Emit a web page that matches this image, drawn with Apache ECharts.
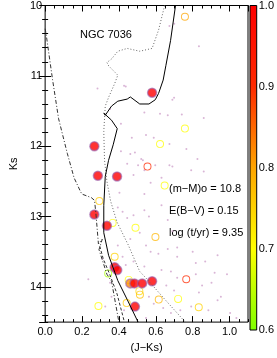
<!DOCTYPE html>
<html><head><meta charset="utf-8">
<script src="https://cdn.jsdelivr.net/npm/echarts@6/dist/echarts.min.js"></script>
<style>html,body{margin:0;padding:0;background:#fff}#c{width:277px;height:358px}</style>
</head><body><div id="c"></div>
<script>
// Members (filled): [J-Ks, Ks, probability]
var members = [[0.58,11.24,1],[0.267,12.0,1],[0.286,12.42,1],[0.39,12.43,1],[0.267,12.97,1],[0.335,13.13,1],[0.377,13.72,1],[0.391,13.76,1],[0.462,13.95,0.82],[0.484,13.95,1],[0.526,13.95,1],[0.58,13.92,1],[0.487,14.28,1]];
// Candidates (open circles): [J-Ks, Ks, probability]
var candidates = [[0.758,10.16,0.8],[0.758,11.75,0.7],[0.623,11.97,0.7],[0.555,12.29,0.9],[0.648,12.56,0.7],[0.294,12.78,0.76],[0.366,13.09,0.7],[0.49,13.16,0.7],[0.598,13.29,0.78],[0.377,13.57,0.75],[0.342,13.81,0.63],[0.453,13.9,0.7],[0.765,13.89,0.9],[0.511,14.06,0.74],[0.514,14.11,0.77],[0.616,14.18,0.78],[0.721,14.17,0.7],[0.833,14.29,0.75],[0.442,14.23,0.76],[0.289,14.27,0.7]];
// Field stars (small dots): [J-Ks, Ks]
var field = [[0.674,10.29],[0.70,10.26],[0.834,10.58],[0.69,11.34],[0.538,11.52],[0.623,11.54],[0.665,11.56],[0.741,11.55],[0.86,11.6],[0.547,11.84],[0.589,11.88],[0.674,11.97],[0.766,12.04],[0.53,12.2],[0.597,12.27],[0.674,12.27],[0.69,12.29],[0.826,12.18],[0.792,12.34],[0.86,12.36],
[0.284,11.18],[0.352,11.47],[0.437,11.15],[0.47,11.88],[0.411,12.07],[0.445,12.25],[0.504,12.27],[0.538,12.34],[0.479,12.41],
[0.428,11.14],[0.699,11.31],[0.411,11.68],[0.462,12.11],[0.487,12.09],[0.521,12.18],[0.631,12.45],[0.572,12.52],[0.403,12.66],[0.538,12.68],
[0.394,12.87],[0.42,12.93],[0.445,13.02],[0.479,12.98],[0.538,12.91],[0.563,13.0],[0.631,12.84],[0.665,13.05],[0.69,13.21],[0.513,13.23],[0.462,13.32],[0.547,13.41],[0.572,13.5],[0.614,13.53],[0.665,13.46],[0.716,13.57],[0.80,13.5],[0.868,13.64],[0.935,13.55],[0.986,13.82],[0.42,13.57],[0.437,13.69],[0.479,13.64],[0.538,13.71],[0.631,13.76],[0.682,13.78],[0.716,13.87],[0.817,13.82],[0.851,13.98],[0.902,13.94],[0.657,13.98],[0.699,14.05],[0.563,14.14],[0.589,14.24],[0.64,14.3],[0.682,14.37],[0.733,14.33],[0.792,14.28],[0.885,14.33],[0.953,14.14],[1.003,14.37],[0.547,14.44],[0.36,14.14],[0.352,13.94],[0.31,13.6],[0.394,13.41],[0.326,14.28],[0.428,14.33],
[0.716,13.44],[0.817,13.66],[0.919,13.8],[0.834,14.08],[0.935,14.19],[1.037,14.44],[0.234,13.89]];
// Best-fit isochrone (solid)
var isoSolid = [[0.707,10.0],[0.68,10.5],[0.655,10.85],[0.64,11.06],[0.615,11.25],[0.597,11.34],[0.563,11.40],[0.513,11.40],[0.462,11.30],[0.445,11.33],[0.394,11.36],[0.36,11.43],[0.326,11.56],[0.318,11.53],[0.36,11.63],[0.391,11.75],[0.369,11.98],[0.344,12.2],[0.326,12.43],[0.318,12.84],[0.318,13.23],[0.344,13.55],[0.394,13.91],[0.445,14.18],[0.504,14.5]];
// Binary / shifted sequence (dotted)
var isoDotted = [[0.648,10.0],[0.615,10.35],[0.58,10.61],[0.513,10.65],[0.445,10.61],[0.394,10.65],[0.36,10.76],[0.335,10.81],[0.345,10.86],[0.394,10.99],[0.377,11.11],[0.345,11.3],[0.326,11.43],[0.318,11.79],[0.322,12.2],[0.335,12.5],[0.355,12.78],[0.39,13.08],[0.45,13.4],[0.513,13.78],[0.563,13.92],[0.65,14.18],[0.76,14.5]];
// Left sequence (dash-dot)
var isoDashDot = [[0.0,10.33],[0.005,10.40],[0.04,11.05],[0.073,11.61],[0.12,12.1],[0.157,12.45],[0.191,12.64],[0.199,12.68],[0.25,12.73],[0.268,12.77],[0.276,12.98],[0.289,13.39],[0.31,13.32],[0.292,13.47],[0.335,13.82],[0.36,13.92],[0.40,14.5]];
// Lower dashed branch
var isoDashed = [[0.296,13.42],[0.315,13.6],[0.35,13.82],[0.39,14.1],[0.43,14.5]];
var xTicks = [0.0,0.2,0.4,0.6,0.8,1.0];
var yTicks = [10,11,12,13,14];
var cbTicks = [0.6,0.7,0.8,0.9,1.0];

var FONT = 'Liberation Sans';
var chart = echarts.init(document.getElementById('c'), null, {renderer:'canvas'});
var cbColors = ['#7fff00','#ffff00','#ffa500','#ff2a00','#ff0000'];
var RING = 'path://M0,-10A10,10 0 1,1 0,10A10,10 0 1,1 0,-10ZM0,-7.6A7.6,7.6 0 1,0 0,7.6A7.6,7.6 0 1,0 0,-7.6Z';
function axisBase(extra){
  return Object.assign({type:'value', gridIndex:0, axisLine:{show:false}, splitLine:{show:false},
    axisTick:{inside:true, lineStyle:{color:'#000', width:1}}, axisLabel:{show:false}}, extra);
}
var xMin=0, xMax=1.1, yMin=10, yMax=14.5;
var option = {
  animation:false,
  backgroundColor:'#fff',
  grid:[
    {left:29, top:3, width:219, height:327, show:true, borderColor:'#000', borderWidth:1, backgroundColor:'transparent'},
    {left:250, top:3, width:11, height:327, show:true, borderColor:'#000', borderWidth:1,
     backgroundColor: new echarts.graphic.LinearGradient(0,1,0,0,[
       {offset:0,color:cbColors[0]},{offset:0.25,color:cbColors[1]},{offset:0.5,color:cbColors[2]},{offset:0.75,color:cbColors[3]},{offset:1,color:cbColors[4]}])}
  ],
  xAxis:[
    axisBase({position:'bottom', min:xMin, max:xMax, interval:0.2, axisTick:{inside:true,length:6,lineStyle:{color:'#000'}},
      axisLabel:{show:true, showMaxLabel:false, margin:4, fontFamily:FONT, fontSize:11, color:'#000', formatter:function(v){return xTicks.indexOf(+v.toFixed(1))>=0? v.toFixed(1):'';}},
      name:'(J\u2212Ks)', nameLocation:'middle', nameGap:16, nameTextStyle:{fontFamily:FONT, fontSize:11, color:'#000'}}),
    axisBase({position:'bottom', min:xMin, max:xMax, interval:0.05, axisTick:{inside:true,length:3,lineStyle:{color:'#000'}}}),
    axisBase({position:'top', min:xMin, max:xMax, interval:0.2, axisTick:{inside:true,length:6,lineStyle:{color:'#000'}}}),
    axisBase({position:'top', min:xMin, max:xMax, interval:0.05, axisTick:{inside:true,length:3,lineStyle:{color:'#000'}}}),
    {type:'category', gridIndex:1, show:false, data:['cb']}
  ],
  yAxis:[
    axisBase({position:'left', min:yMin, max:yMax, inverse:true, interval:1, axisTick:{inside:true,length:6,lineStyle:{color:'#000'}},
      axisLabel:{show:true, showMaxLabel:false, margin:3, fontFamily:FONT, fontSize:11, color:'#000', formatter:function(v){return yTicks.indexOf(v)>=0? String(v):'';}},
      name:'Ks', nameLocation:'middle', nameGap:17, nameRotate:90, nameTextStyle:{fontFamily:FONT, fontSize:11, color:'#000'}}),
    axisBase({position:'left', min:yMin, max:yMax, inverse:true, interval:0.2, axisTick:{inside:true,length:3,lineStyle:{color:'#000'}}}),
    axisBase({position:'right', min:yMin, max:yMax, inverse:true, interval:1, axisTick:{inside:true,length:6,lineStyle:{color:'#000'}}}),
    axisBase({position:'right', min:yMin, max:yMax, inverse:true, interval:0.2, axisTick:{inside:true,length:3,lineStyle:{color:'#000'}}}),
    {type:'value', gridIndex:1, position:'right', min:0.6, max:1.0, interval:0.1, axisLine:{show:false}, axisTick:{show:false}, splitLine:{show:false},
      axisLabel:{margin:2, fontFamily:FONT, fontSize:11, color:'#000', formatter:function(v){return cbTicks.indexOf(+v.toFixed(1))>=0? v.toFixed(1):'';}}}
  ],
  visualMap:[{type:'continuous', show:false, min:0.6, max:1.0, dimension:2, seriesIndex:[5,6], inRange:{color:cbColors}}],
  graphic:[
    {type:'text', left:80, top:29, style:{text:'NGC 7036', fontFamily:FONT, fontSize:11, fill:'#000'}},
    {type:'text', left:169, top:183, style:{text:'(m\u2212M)o = 10.8', fontFamily:FONT, fontSize:11, fill:'#000'}},
    {type:'text', left:169, top:205, style:{text:'E(B\u2212V) = 0.15', fontFamily:FONT, fontSize:11, fill:'#000'}},
    {type:'text', left:169, top:227, style:{text:'log (t/yr) = 9.35', fontFamily:FONT, fontSize:11, fill:'#000'}}
  ],
  series:[
    {type:'scatter', xAxisIndex:0, yAxisIndex:0, data:field, symbolSize:2, itemStyle:{color:'#cfa3cc'}, silent:true},
    {type:'line', xAxisIndex:0, yAxisIndex:0, data:isoDotted, showSymbol:false, lineStyle:{color:'#666', width:1, type:[1,2]}, silent:true},
    {type:'line', xAxisIndex:0, yAxisIndex:0, data:isoDashDot, showSymbol:false, lineStyle:{color:'#333', width:1, type:[4,2,1,2]}, silent:true},
    {type:'line', xAxisIndex:0, yAxisIndex:0, data:isoDashed, showSymbol:false, lineStyle:{color:'#333', width:1, type:[3,2]}, silent:true},
    {type:'line', xAxisIndex:0, yAxisIndex:0, data:isoSolid, showSymbol:false, lineStyle:{color:'#000', width:1}, silent:true},
    {type:'scatter', xAxisIndex:0, yAxisIndex:0, data:candidates, symbol:RING, symbolSize:8, itemStyle:{opacity:0.75}, silent:true},
    {type:'scatter', xAxisIndex:0, yAxisIndex:0, data:members, symbol:'circle', symbolSize:9, itemStyle:{borderColor:'rgba(150,95,175,0.75)', borderWidth:1.5}, silent:true}
  ]
};
chart.setOption(option);
</script></body></html>
